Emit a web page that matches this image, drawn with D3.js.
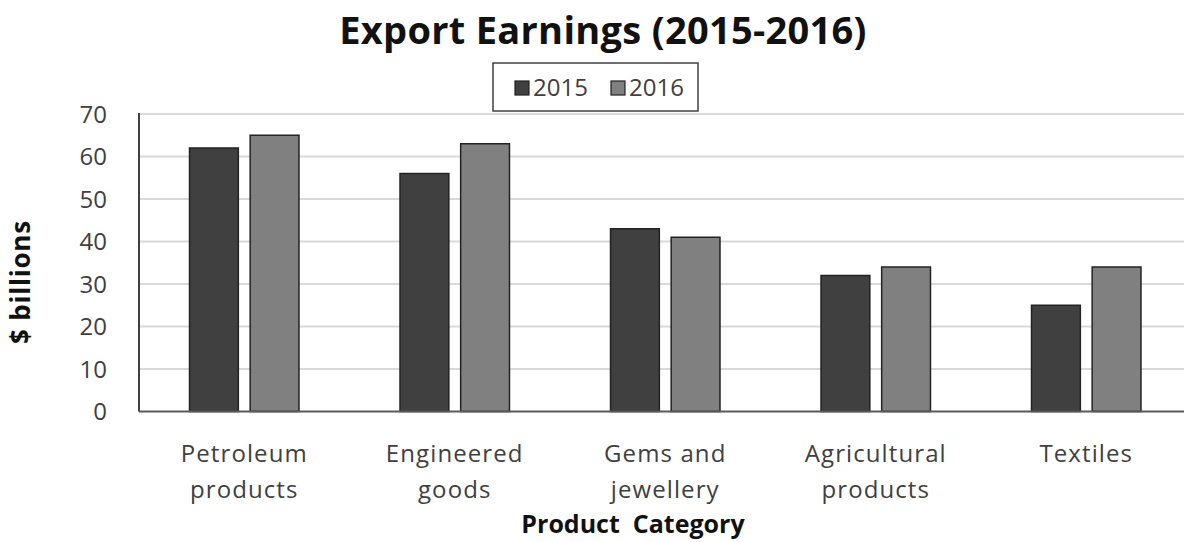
<!DOCTYPE html>
<html>
<head>
<meta charset="utf-8">
<script src="https://cdn.jsdelivr.net/npm/d3@7"></script>
<style>
  html, body { margin: 0; padding: 0; background: #fff; }
  svg { display: block; font-family: "Open Sans", "Noto Sans", sans-serif; }
</style>
</head>
<body>
<div id="chart"></div>
<script>
/* Export Earnings (2015-2016): grouped bars, two years per product category. */
const categories = ["Petroleum products", "Engineered goods", "Gems and jewellery", "Agricultural products", "Textiles"];
const catLines = [["Petroleum", "products"], ["Engineered", "goods"], ["Gems and", "jewellery"], ["Agricultural", "products"], ["Textiles"]];
const years = ["2015", "2016"];
const values2015 = [62, 56, 43, 32, 25];
const values2016 = [65, 63, 41, 34, 34];
const yTicks = [0, 10, 20, 30, 40, 50, 60, 70];

const W = 1184, H = 542;
const m = { t: 114, r: -7.5, b: 130.5, l: 139 };
const colors = { "2015": "#404040", "2016": "#808080" };

const svg = d3.select("#chart").append("svg").attr("width", W).attr("height", H);

const x0 = d3.scaleBand().domain(categories).range([m.l, W - m.r]).paddingInner(0.48).paddingOuter(0.24);
const x1 = d3.scaleBand().domain(years).range([0, x0.bandwidth()]).paddingInner(0.195);
const y = d3.scaleLinear().domain([0, 70]).range([H - m.b, m.t]);

const rows = categories.map((c, i) => ({ cat: c, lines: catLines[i], vals: { "2015": values2015[i], "2016": values2016[i] } }));

// gridlines
svg.append("g").selectAll("line").data(yTicks.filter(t => t > 0)).join("line")
  .attr("x1", m.l).attr("x2", W)
  .attr("y1", d => y(d)).attr("y2", d => y(d))
  .attr("stroke", "#d9d9d9").attr("stroke-width", 2);

// y tick labels
svg.append("g").selectAll("text").data(yTicks).join("text")
  .attr("x", 107).attr("y", d => y(d)).attr("dy", "0.36em")
  .attr("text-anchor", "end").attr("font-size", 24).attr("fill", "#404040")
  .text(d => d);

// bars
const grp = svg.append("g").selectAll("g").data(rows).join("g")
  .attr("transform", d => `translate(${x0(d.cat)},0)`);
grp.selectAll("rect").data(d => years.map(k => ({ k, v: d.vals[k] }))).join("rect")
  .attr("x", d => x1(d.k))
  .attr("y", d => y(d.v))
  .attr("width", x1.bandwidth())
  .attr("height", d => y(0) - y(d.v))
  .attr("fill", d => colors[d.k])
  .attr("stroke", "#222").attr("stroke-width", 1.5);

// axis lines
svg.append("line").attr("x1", m.l).attr("x2", m.l).attr("y1", y(70) - 1).attr("y2", y(0))
  .attr("stroke", "#404040").attr("stroke-width", 2);
svg.append("line").attr("x1", m.l).attr("x2", W).attr("y1", y(0)).attr("y2", y(0))
  .attr("stroke", "#595959").attr("stroke-width", 2);

// category labels
const cl = svg.append("g").selectAll("text").data(rows).join("text")
  .attr("text-anchor", "middle").attr("font-size", 24).attr("fill", "#404040")
  .attr("letter-spacing", 1.1)
  .attr("x", d => x0(d.cat) + x0.bandwidth() / 2).attr("y", 462);
cl.selectAll("tspan").data(d => d.lines.map(t => ({ t, x: x0(d.cat) + x0.bandwidth() / 2 }))).join("tspan")
  .attr("x", d => d.x).attr("dy", (d, i) => i ? 36 : 0).text(d => d.t);

// title
svg.append("text").attr("x", 603).attr("y", 44).attr("text-anchor", "middle")
  .attr("font-size", 38).attr("font-weight", "bold").attr("fill", "#111")
  .attr("letter-spacing", 0.3)
  .text("Export Earnings (2015-2016)");

// axis titles
svg.append("text").attr("transform", "translate(30,282) rotate(-90)").attr("text-anchor", "middle")
  .attr("font-size", 26).attr("font-weight", "bold").attr("fill", "#111")
  .attr("letter-spacing", 0.8)
  .text("$ billions");
svg.append("text").attr("x", 633).attr("y", 533).attr("text-anchor", "middle")
  .attr("font-size", 25).attr("font-weight", "bold").attr("fill", "#111")
  .style("white-space", "pre")
  .text("Product  Category");

// legend
const lg = svg.append("g");
lg.append("rect").attr("x", 493).attr("y", 63).attr("width", 205).attr("height", 48)
  .attr("fill", "#fff").attr("stroke", "#404040").attr("stroke-width", 1.5);
const li = lg.selectAll("g").data(years).join("g")
  .attr("transform", (d, i) => `translate(${515 + i * 96},0)`);
li.append("rect").attr("x", 0).attr("y", 81).attr("width", 14).attr("height", 14)
  .attr("fill", d => colors[d]).attr("stroke", "#222").attr("stroke-width", 1.2);
li.append("text").attr("x", 18).attr("y", 96).attr("font-size", 24).attr("fill", "#404040")
  .text(d => d);
</script>
</body>
</html>
